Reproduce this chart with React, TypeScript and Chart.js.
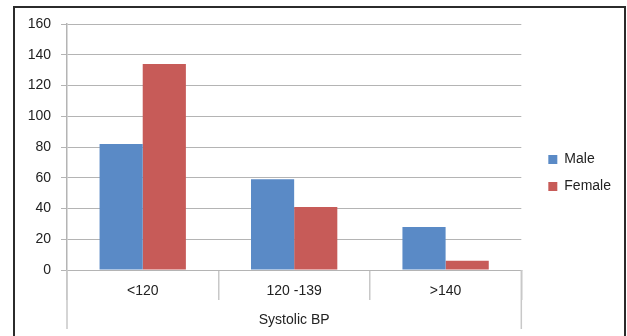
import React, { useEffect, useRef } from "react";
import { Chart, registerables } from "chart.js";

Chart.register(...registerables);

const categories = ["<120", "120 -139", ">140"];
const maleValues = [82, 59, 28];
const femaleValues = [134, 41, 6];
const axisTitle = "Systolic BP";
const seriesNames = ["Male", "Female"];

const FONT = "'Liberation Sans', Arial, sans-serif";
const GRID = "#b4b4b4";

const framePlugin = {
  id: "frame",
  afterDraw(chart: any) {
    const ctx = chart.ctx;
    const x = chart.scales.x;
    ctx.save();
    ctx.strokeStyle = "#c8c8c8";
    ctx.lineWidth = 1.5;
    ctx.beginPath();
    ctx.moveTo(x.left, x.top);
    ctx.lineTo(x.left, x.top + 59);
    ctx.moveTo(x.right, x.top);
    ctx.lineTo(x.right, x.top + 59);
    ctx.stroke();
    ctx.strokeStyle = "#2b2b2b";
    ctx.lineWidth = 2;
    ctx.beginPath();
    ctx.moveTo(14, 340);
    ctx.lineTo(14, 7);
    ctx.lineTo(625, 7);
    ctx.lineTo(625, 340);
    ctx.stroke();
    ctx.restore();
  },
};

export default function App() {
  const ref = useRef<HTMLCanvasElement>(null);
  useEffect(() => {
    document.body.style.margin = "0";
    const chart = new Chart(ref.current!, {
      type: "bar",
      data: {
        labels: categories,
        datasets: [
          { label: seriesNames[0], data: maleValues, backgroundColor: "#5A8AC6" },
          { label: seriesNames[1], data: femaleValues, backgroundColor: "#C75B58" },
        ],
      },
      options: {
        animation: false,
        responsive: false,
        devicePixelRatio: 1,
        layout: { padding: { top: 24, left: 0, right: 6, bottom: 14 } },
        datasets: { bar: { categoryPercentage: 0.57, barPercentage: 1 } },
        plugins: {
          tooltip: { enabled: false },
          legend: {
            position: "right",
            labels: {
              boxWidth: 9,
              boxHeight: 9,
              padding: 13,
              color: "#222",
              font: { family: FONT, size: 14 },
            },
          },
        },
        scales: {
          x: {
            grid: {
              offset: true,
              drawOnChartArea: false,
              drawTicks: true,
              tickLength: 30,
              color: "#c8c8c8",
              lineWidth: 1.5,
            },
            border: { display: true, color: GRID, width: 1 },
            ticks: {
              color: "#222",
              font: { family: FONT, size: 14 },
              padding: -17,
            },
            title: {
              display: true,
              text: axisTitle,
              color: "#222",
              font: { family: FONT, size: 14 },
              padding: { top: 0, bottom: -7 },
            },
            afterFit(s: any) {
              s.height = 52;
            },
          },
          y: {
            min: 0,
            max: 160,
            ticks: {
              stepSize: 20,
              color: "#222",
              font: { family: FONT, size: 14 },
              padding: 10,
            },
            grid: { color: GRID, tickLength: 6, lineWidth: 1 },
            border: { display: true, color: GRID, width: 1.5 },
            afterFit(s: any) {
              s.width = 67;
            },
          },
          y2: {
            position: "right",
            display: true,
            ticks: { display: false },
            grid: { display: false, drawTicks: false },
            border: { display: false },
            afterFit(s: any) {
              s.width = 14;
            },
          },
        },
      } as any,
      plugins: [framePlugin],
    });
    return () => chart.destroy();
  }, []);
  return <canvas ref={ref} width={627} height={336} style={{ display: "block" }} />;
}
